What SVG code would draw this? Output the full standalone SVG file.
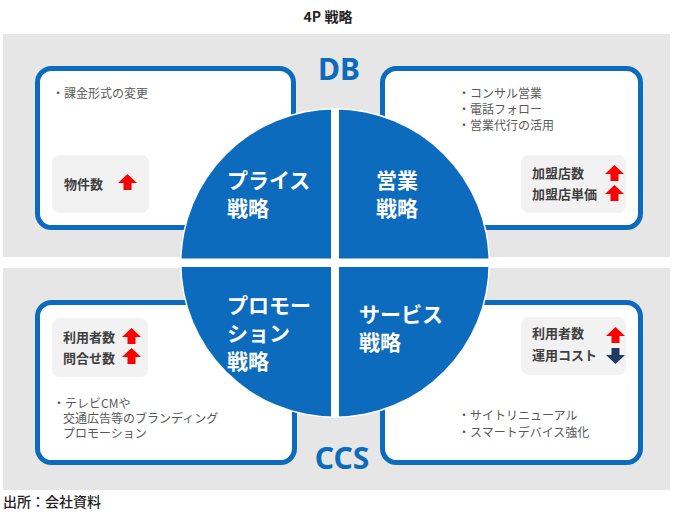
<svg xmlns="http://www.w3.org/2000/svg" width="673" height="514" viewBox="0 0 673 514">
<style>
.panel{fill:#e6e6e6}
.card{fill:#fff;stroke:#0d6bbd;stroke-width:5}
.box{fill:#f2f2f2}
.lbl{font-family:"Noto Sans CJK JP","Noto Sans",sans-serif;font-weight:700;font-size:13px;fill:#404040}
.bul{font-family:"Noto Sans CJK JP","Noto Sans",sans-serif;font-size:12px;fill:#595959}
.ct{font-family:"Noto Sans CJK JP","Noto Sans",sans-serif;font-weight:700;font-size:21px;fill:#fff}
.big{font-family:"Noto Sans","Open Sans",sans-serif;font-weight:700;font-size:30px;fill:#0d6bbd}
.title{font-family:"Noto Sans CJK JP","Noto Sans",sans-serif;font-weight:700;font-size:14px;fill:#222}
</style>
<defs>
<path id="up" d="M9.5,0 L19,9 L13.5,9 L13.5,16 L5.5,16 L5.5,9 L0,9 Z" fill="#ff0000"/>
<path id="down" d="M9.5,16 L19,7 L13.5,7 L13.5,0 L5.5,0 L5.5,7 L0,7 Z" fill="#1f3864"/>
<clipPath id="cc"><circle cx="335" cy="263" r="153.5"/></clipPath>
</defs>
<rect width="673" height="514" fill="#fff"/>
<text class="title" x="328" y="22" text-anchor="middle">4P 戦略</text>
<rect class="panel" x="3" y="34" width="667" height="223"/>
<rect class="panel" x="3" y="268" width="667" height="222"/>
<text class="big" x="339" y="80" text-anchor="middle">DB</text>
<text class="big" x="342" y="469" text-anchor="middle">CCS</text>

<g id="card-price">
<rect class="card" x="37.5" y="68.5" width="256" height="159" rx="14"/>
<text class="bul" x="52" y="98">・課金形式の変更</text>
<rect class="box" x="52" y="155" width="97" height="58" rx="8"/>
<text class="lbl" x="64" y="189">物件数</text>
<use href="#up" x="118" y="174"/>
</g>
<g id="card-sales">
<rect class="card" x="382.5" y="68.5" width="258" height="159" rx="14"/>
<text class="bul" x="458" y="98">・コンサル営業</text>
<text class="bul" x="458" y="114">・電話フォロー</text>
<text class="bul" x="458" y="130">・営業代行の活用</text>
<rect class="box" x="521" y="155" width="105" height="58" rx="8"/>
<text class="lbl" x="532" y="178">加盟店数</text>
<text class="lbl" x="532" y="199">加盟店単価</text>
<use href="#up" x="605" y="165"/>
<use href="#up" x="605" y="185"/>
</g>
<g id="card-promo">
<rect class="card" x="37.5" y="302.5" width="257" height="160" rx="14"/>
<rect class="box" x="52" y="318" width="96" height="59" rx="8"/>
<text class="lbl" x="63" y="342">利用者数</text>
<text class="lbl" x="63" y="363">問合せ数</text>
<use href="#up" x="122" y="328"/>
<use href="#up" x="122" y="348"/>
<text class="bul" x="53" y="408">・テレビCMや</text>
<text class="bul" x="63" y="423">交通広告等のブランディング</text>
<text class="bul" x="63" y="438">プロモーション</text>
</g>
<g id="card-service">
<rect class="card" x="382.5" y="302.5" width="258" height="160" rx="14"/>
<rect class="box" x="521" y="317" width="105" height="58" rx="8"/>
<text class="lbl" x="532" y="338">利用者数</text>
<text class="lbl" x="532" y="360">運用コスト</text>
<use href="#up" x="606" y="327"/>
<use href="#down" x="606" y="348"/>
<text class="bul" x="458" y="420">・サイトリニューアル</text>
<text class="bul" x="458" y="437">・スマートデバイス強化</text>
</g>

<g id="circle">
<circle cx="335" cy="263" r="155" fill="#fff"/>
<g clip-path="url(#cc)" fill="#0d6bbd">
<rect x="180" y="108" width="151" height="150.5"/>
<rect x="339" y="108" width="151" height="150.5"/>
<rect x="180" y="267" width="151" height="151"/>
<rect x="339" y="267" width="151" height="151"/>
</g>
<text class="ct" x="227" y="188">プライス</text>
<text class="ct" x="227" y="216">戦略</text>
<text class="ct" x="376" y="188">営業</text>
<text class="ct" x="376" y="216">戦略</text>
<text class="ct" x="227" y="313">プロモー</text>
<text class="ct" x="227" y="341">ション</text>
<text class="ct" x="227" y="369">戦略</text>
<text class="ct" x="359" y="322">サービス</text>
<text class="ct" x="359" y="350">戦略</text>
</g>
<text class="title" x="3" y="507" style="font-weight:500">出所：会社資料</text>
</svg>
